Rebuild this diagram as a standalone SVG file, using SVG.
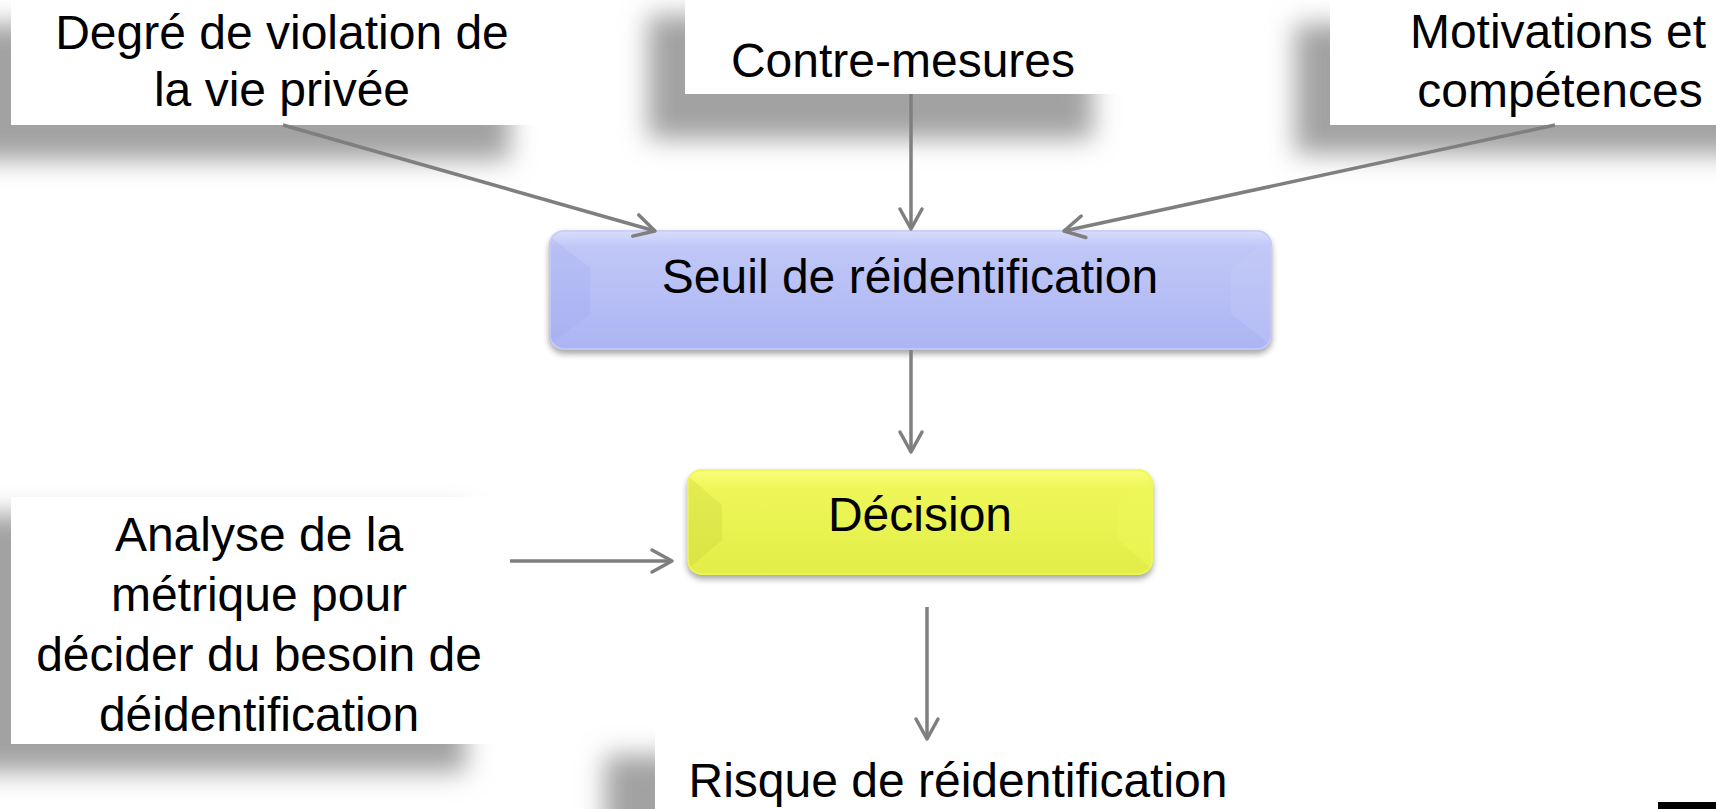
<svg xmlns="http://www.w3.org/2000/svg" width="1716" height="809" viewBox="0 0 1716 809">
<defs>
<style>
.t{font-family:"Liberation Sans",Arial,sans-serif;font-size:48px;fill:#000;text-anchor:middle}
.sh{fill:#a2a2a2}
.wb{fill:#fff}
.c{stroke:#7f7f7f;stroke-width:3.5;fill:none;marker-end:url(#ah)}
</style>
<filter id="blur" filterUnits="userSpaceOnUse" x="-100" y="-100" width="1916" height="1009"><feGaussianBlur stdDeviation="13"/></filter>
<filter id="soft" x="-10%" y="-30%" width="120%" height="160%"><feGaussianBlur stdDeviation="3"/></filter>
<marker id="ah" markerUnits="userSpaceOnUse" viewBox="-24 -14 28 28" markerWidth="28" markerHeight="28" refX="0" refY="0" orient="auto">
<path d="M-20,-11 L0,0 L-20,11" stroke="#7f7f7f" stroke-width="3.5" fill="none" stroke-linecap="round" stroke-linejoin="round"/>
</marker>
<linearGradient id="gBlue" x1="0" y1="0" x2="0" y2="1">
<stop offset="0" stop-color="#dadffc"/><stop offset="0.14" stop-color="#c0c7f7"/><stop offset="1" stop-color="#acb5f3"/>
</linearGradient>
<linearGradient id="gYel" x1="0" y1="0" x2="0" y2="1">
<stop offset="0" stop-color="#fbfd7c"/><stop offset="0.18" stop-color="#eef758"/><stop offset="1" stop-color="#e2ed48"/>
</linearGradient>
<clipPath id="cpS"><rect x="549" y="230" width="723" height="120" rx="15"/></clipPath>
<clipPath id="cpD"><rect x="687" y="469" width="466" height="106" rx="15"/></clipPath>
</defs>
<rect width="1716" height="809" fill="#fff"/>

<g id="node-degre">
<rect class="sh" x="-40" y="24" width="550" height="136" filter="url(#blur)"/>
<rect class="wb" x="11" y="-10" width="542" height="135"/>
<text class="t" x="282" y="49">Degré de violation de</text>
<text class="t" x="282" y="106">la vie privée</text>
</g>

<g id="node-contre">
<rect class="sh" x="648" y="15" width="445" height="124" filter="url(#blur)"/>
<rect class="wb" x="685" y="-10" width="436" height="104"/>
<text class="t" x="903" y="77">Contre-mesures</text>
</g>

<g id="node-motiv">
<rect class="sh" x="1295" y="24" width="500" height="130" filter="url(#blur)"/>
<rect class="wb" x="1330" y="-10" width="420" height="135"/>
<text class="t" x="1558" y="48">Motivations et</text>
<text class="t" x="1560" y="107">compétences</text>
</g>

<g id="node-seuil">
<rect x="549" y="234" width="723" height="120" rx="15" fill="#000" opacity="0.35" filter="url(#soft)"/>
<rect x="549" y="230" width="723" height="120" rx="15" fill="url(#gBlue)"/>
<g clip-path="url(#cpS)">
<polygon points="549,236 590,268 590,314 549,346" fill="#9aa3ec" opacity="0.22"/>
<polygon points="1272,236 1231,268 1231,314 1272,346" fill="#c6ccf8" opacity="0.3"/>
</g>
<rect x="550" y="231" width="721" height="118" rx="14" fill="none" stroke="#c7ccf8" stroke-width="1.5"/>
<text class="t" x="910" y="293">Seuil de réidentification</text>
</g>

<g id="node-decision">
<rect x="687" y="473" width="466" height="106" rx="15" fill="#000" opacity="0.35" filter="url(#soft)"/>
<rect x="687" y="469" width="466" height="106" rx="15" fill="url(#gYel)"/>
<g clip-path="url(#cpD)">
<polygon points="687,475 722,505 722,540 687,570" fill="#c8d23c" opacity="0.3"/>
<polygon points="1153,475 1118,505 1118,540 1153,570" fill="#eef85a" opacity="0.5"/>
</g>
<rect x="688" y="470" width="464" height="104" rx="14" fill="none" stroke="#eef65a" stroke-width="1.5"/>
<text class="t" x="920" y="531">Décision</text>
</g>

<g id="node-analyse">
<rect class="sh" x="-40" y="514" width="506" height="258" filter="url(#blur)"/>
<rect class="wb" x="11" y="497" width="496" height="247"/>
<text class="t" x="259" y="551">Analyse de la</text>
<text class="t" x="259" y="611">métrique pour</text>
<text class="t" x="259" y="671">décider du besoin de</text>
<text class="t" x="259" y="731">déidentification</text>
</g>

<g id="node-risque">
<rect class="sh" x="605" y="755" width="600" height="120" filter="url(#blur)"/>
<rect class="wb" x="655" y="722" width="604" height="100"/>
<text class="t" x="958" y="797">Risque de réidentification</text>
</g>

<g id="connectors">
<line class="c" x1="283" y1="125" x2="655" y2="231"/>
<line class="c" x1="911" y1="94" x2="911" y2="229"/>
<line class="c" x1="1555" y1="125" x2="1064" y2="231"/>
<line class="c" x1="911" y1="350" x2="911" y2="452"/>
<line class="c" x1="510" y1="561" x2="672" y2="561"/>
<line class="c" x1="927" y1="607" x2="927" y2="739"/>
</g>

<rect x="1658" y="802" width="58" height="7" fill="#000"/>
</svg>
